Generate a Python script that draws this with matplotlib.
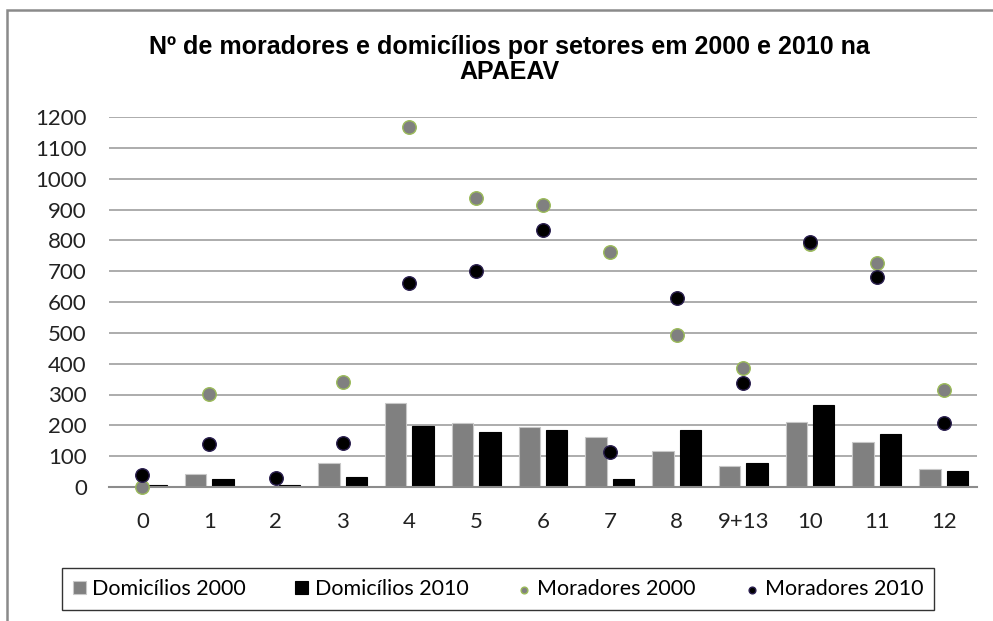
import numpy as np
import matplotlib
matplotlib.use("Agg")
import matplotlib.pyplot as plt
from matplotlib.patches import Rectangle

# sectors and values
setores = ["0", "1", "2", "3", "4", "5", "6", "7", "8", "9+13", "10", "11", "12"]
domicilios_2000 = [0, 41, 0, 78, 273, 206, 195, 162, 117, 69, 212, 145, 58]
domicilios_2010 = [8, 26, 5, 32, 197, 180, 184, 26, 184, 78, 265, 173, 51]
moradores_2000 = [0, 303, np.nan, 341, 1168, 936, 916, 762, 492, 387, 788, 726, 314]
moradores_2010 = [39, 139, 29, 143, 662, 702, 835, 113, 614, 338, 793, 682, 206]
y_ticks = list(range(0, 1300, 100))

plt.rcParams['font.family'] = ['Lato', 'DejaVu Sans']

W, H = 993, 621
fig = plt.figure(figsize=(W / 100, H / 100), dpi=100)

# outer chart frame (runs off the right/bottom of the picture)
fig.patches.append(Rectangle((7 / W, -0.1), 1.2, 1 - 10 / H + 0.1,
                             transform=fig.transFigure, fill=False,
                             edgecolor='#8a8a8a', linewidth=1.8))

ax = fig.add_axes([109 / W, 1 - 487 / H, (977 - 109) / W, (487 - 117) / H])

x = np.arange(len(setores))
w = 0.32
b1 = ax.bar(x - 0.205, domicilios_2000, width=w, color='#808080', edgecolor='#c8c8c8',
            linewidth=0.8, label='Domicílios 2000', zorder=2)
b2 = ax.bar(x + 0.205, domicilios_2010, width=w, color='#000000', edgecolor='#000000',
            linewidth=0.8, label='Domicílios 2010', zorder=2)
s1 = ax.scatter(x, moradores_2000, s=95, color='#808080', edgecolors='#9bbb59',
                linewidths=1.0, label='Moradores 2000', zorder=3, clip_on=False)
s2 = ax.scatter(x, moradores_2010, s=95, color='#000000', edgecolors='#2a1f4f',
                linewidths=1.0, label='Moradores 2010', zorder=4, clip_on=False)

ax.set_xlim(-0.5, len(setores) - 0.5)
ax.set_ylim(0, 1200)
ax.set_yticks(y_ticks)
ax.set_xticks(x)
ax.set_xticklabels(setores)
ax.grid(axis='y', color='#a6a6a6', linewidth=1.3, zorder=0)
ax.set_axisbelow(True)
for s in ['top', 'right', 'left']:
    ax.spines[s].set_visible(False)
ax.spines['bottom'].set_color('#8c8c8c')
ax.spines['bottom'].set_linewidth(1.5)
ax.tick_params(axis='y', length=0, pad=16, labelsize=16, colors='#222222')
ax.tick_params(axis='x', length=0, pad=18, labelsize=16, colors='#222222')

title_font = ['Liberation Sans Narrow', 'Liberation Sans']
fig.text(509 / W, 1 - 47 / H, 'Nº de moradores e domicílios por setores em 2000 e 2010 na',
         ha='center', va='center', fontsize=18, fontweight='bold', family=title_font)
fig.text(509 / W, 1 - 72 / H, 'APAEAV', ha='center', va='center', fontsize=18,
         fontweight='bold', family=title_font)

leg = fig.legend([b1, b2, s1, s2],
                 ['Domicílios 2000', 'Domicílios 2010', 'Moradores 2000', 'Moradores 2010'],
                 ncol=4, loc='center', bbox_to_anchor=(498 / W, 1 - 589 / H), fontsize=15.5,
                 frameon=True, fancybox=False, edgecolor='#000000',
                 handlelength=0.6, handleheight=0.6, handletextpad=0.3,
                 columnspacing=2.3, markerscale=0.5, borderpad=0.5)
leg.get_frame().set_linewidth(1.0)

fig.savefig('out.png', dpi=100)
